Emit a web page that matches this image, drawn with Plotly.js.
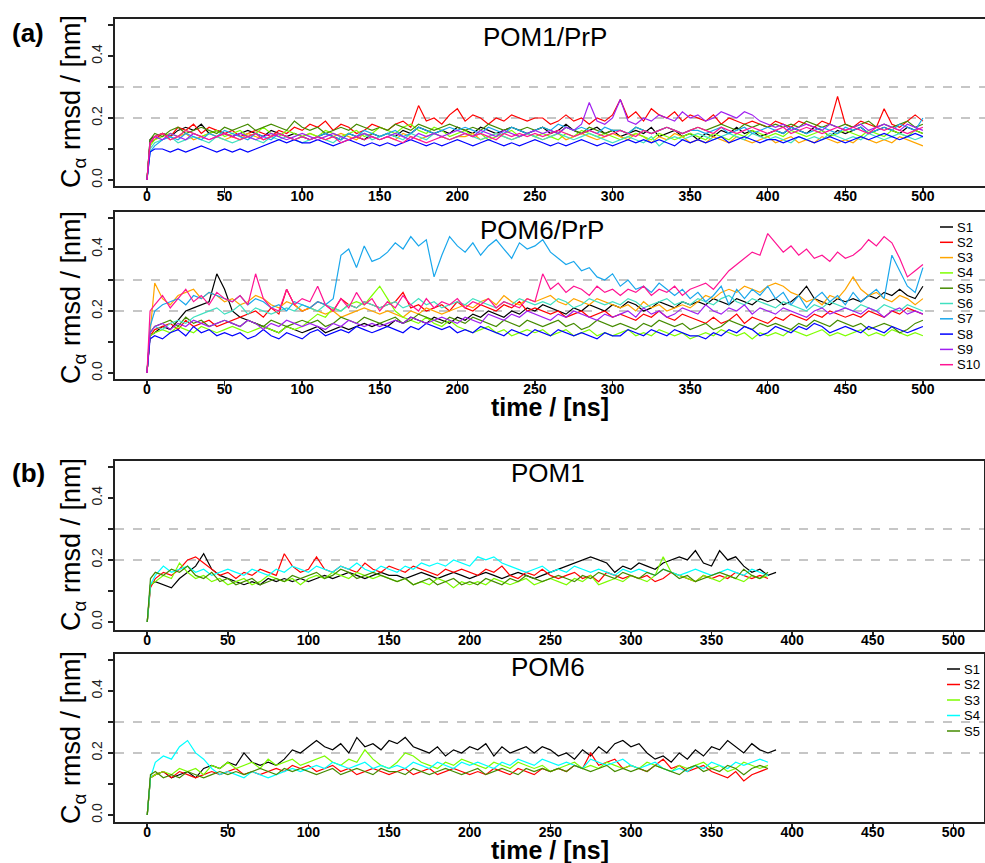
<!DOCTYPE html>
<html>
<head>
<meta charset="utf-8">
<script src="https://cdn.plot.ly/plotly-3.0.1.min.js"></script>
<style>html,body{margin:0;padding:0;background:#fff;}#chart{width:985px;height:863px;}</style>
</head>
<body>
<div id="chart"></div>
<script>
// ---------- time grids (ns) ----------
const tA = [0,2,5,10,15,20,25,30,35,40,45,50,55,60,65,70,75,80,85,90,95,100,105,110,115,120,125,130,135,140,145,150,155,160,165,170,175,180,185,190,195,200,205,210,215,220,225,230,235,240,245,250,255,260,265,270,275,280,285,290,295,300,305,310,315,320,325,330,335,340,345,350,355,360,365,370,375,380,385,390,395,400,405,410,415,420,425,430,435,440,445,450,455,460,465,470,475,480,485,490,495,500];
const tB = [0,2,5,10,15,20,25,30,35,40,45,50,55,60,65,70,75,80,85,90,95,100,105,110,115,120,125,130,135,140,145,150,155,160,165,170,175,180,185,190,195,200,205,210,215,220,225,230,235,240,245,250,255,260,265,270,275,280,285,290,295,300,305,310,315,320,325,330,335,340,345,350,355,360,365,370,375,380,385,390];

// ---------- (a) POM1/PrP, C-alpha rmsd (nm) ----------
const a1_S1 = [0,.13,
.14,.15,.14,.16,.17,.16,.18,.15,.16,.15,
.14,.15,.16,.15,.14,.16,.15,.14,.15,.14,
.13,.14,.15,.14,.13,.15,.14,.13,.15,.14,
.15,.14,.16,.15,.17,.16,.15,.16,.15,.17,
.16,.15,.17,.16,.15,.16,.17,.16,.15,.16,
.17,.15,.16,.18,.16,.15,.16,.17,.15,.16,
.14,.15,.16,.15,.17,.14,.15,.16,.14,.15,
.13,.15,.14,.16,.15,.17,.15,.16,.14,.15,
.16,.15,.17,.16,.15,.17,.16,.14,.16,.15,
.16,.17,.15,.16,.17,.16,.15,.17,.16,.15];
const a1_S2 = [0,.12,
.13,.15,.14,.17,.16,.18,.15,.17,.16,.15,
.16,.14,.15,.16,.15,.14,.16,.15,.17,.16,
.18,.17,.19,.16,.18,.17,.15,.16,.18,.17,
.16,.18,.19,.17,.24,.19,.2,.18,.21,.23,
.19,.21,.2,.18,.2,.19,.21,.2,.19,.2,
.2,.18,.19,.21,.19,.2,.18,.2,.19,.21,
.26,.2,.22,.19,.23,.21,.2,.22,.19,.21,
.2,.19,.21,.18,.2,.19,.18,.19,.18,.17,
.19,.18,.17,.19,.18,.17,.19,.18,.27,.18,
.17,.19,.18,.17,.23,.18,.17,.19,.21,.19];
const a1_S3 = [0,.12,
.14,.15,.13,.14,.15,.13,.14,.15,.14,.13,
.14,.13,.15,.14,.13,.14,.15,.14,.13,.14,
.15,.14,.13,.14,.15,.14,.13,.15,.14,.13,
.14,.13,.15,.14,.13,.14,.15,.14,.13,.14,
.14,.15,.13,.14,.15,.14,.13,.14,.15,.14,
.13,.14,.15,.13,.14,.15,.14,.13,.14,.15,
.14,.13,.15,.14,.12,.14,.13,.15,.14,.12,
.13,.12,.14,.13,.12,.14,.13,.12,.13,.14,
.12,.13,.14,.12,.13,.12,.14,.13,.12,.13,
.12,.14,.13,.12,.13,.12,.14,.13,.12,.11];
const a1_S4 = [0,.11,
.13,.14,.15,.14,.16,.15,.14,.15,.16,.14,
.15,.16,.14,.15,.17,.15,.14,.16,.15,.14,
.15,.14,.16,.15,.14,.15,.16,.14,.15,.17,
.16,.15,.17,.18,.16,.15,.17,.16,.14,.15,
.16,.14,.15,.13,.14,.15,.16,.14,.15,.14,
.15,.14,.13,.15,.14,.16,.15,.14,.15,.14,
.13,.14,.15,.14,.13,.15,.14,.13,.14,.15,
.14,.13,.15,.14,.13,.15,.14,.16,.15,.14,
.15,.14,.16,.15,.14,.15,.16,.14,.15,.16,
.15,.14,.16,.15,.14,.16,.15,.14,.16,.15];
const a1_S5 = [0,.13,
.15,.14,.16,.17,.15,.16,.17,.16,.15,.17,
.16,.17,.18,.16,.17,.18,.17,.16,.19,.17,
.16,.17,.15,.16,.17,.16,.18,.17,.16,.17,
.16,.18,.17,.16,.18,.17,.16,.17,.18,.17,
.16,.17,.16,.18,.17,.16,.17,.16,.17,.16,
.17,.16,.15,.17,.16,.15,.17,.16,.15,.16,
.16,.15,.17,.16,.15,.16,.17,.16,.15,.16,
.17,.16,.17,.18,.17,.16,.18,.17,.18,.17,
.18,.17,.18,.17,.19,.18,.17,.18,.17,.18,
.17,.18,.19,.17,.18,.17,.18,.19,.17,.18];
const a1_S6 = [0,.1,
.12,.13,.14,.12,.13,.14,.13,.12,.14,.13,
.12,.13,.14,.13,.12,.14,.13,.14,.13,.12,
.13,.14,.13,.12,.14,.13,.14,.15,.13,.14,
.15,.14,.13,.15,.14,.13,.15,.14,.13,.14,
.15,.14,.13,.14,.15,.14,.13,.14,.15,.14,
.13,.14,.15,.14,.13,.14,.15,.14,.13,.12,
.13,.14,.13,.12,.14,.11,.13,.14,.13,.14,
.15,.14,.13,.14,.15,.14,.13,.15,.14,.13,
.14,.13,.12,.14,.13,.14,.13,.15,.14,.13,
.14,.13,.15,.14,.13,.14,.15,.14,.13,.14];
const a1_S7 = [0,.09,
.11,.13,.14,.13,.15,.14,.13,.15,.14,.16,
.15,.14,.13,.15,.14,.13,.15,.14,.13,.14,
.13,.14,.15,.14,.13,.15,.14,.16,.15,.14,
.15,.16,.14,.15,.17,.16,.15,.16,.17,.16,
.17,.16,.15,.17,.16,.15,.17,.16,.15,.16,
.17,.16,.18,.17,.16,.17,.16,.15,.17,.16,
.16,.15,.17,.16,.15,.16,.17,.16,.15,.16,
.16,.15,.16,.17,.15,.16,.17,.15,.16,.17,
.16,.15,.17,.16,.15,.16,.17,.16,.15,.17,
.16,.17,.15,.16,.17,.16,.18,.17,.16,.2];
const a1_S8 = [0,.09,
.1,.1,.09,.1,.09,.1,.11,.1,.09,.1,
.09,.1,.09,.1,.11,.12,.13,.12,.13,.12,
.12,.13,.12,.11,.12,.13,.12,.11,.12,.11,
.12,.11,.12,.13,.12,.11,.12,.11,.12,.13,
.12,.11,.12,.13,.12,.11,.12,.11,.12,.13,
.12,.11,.12,.11,.12,.13,.12,.11,.12,.11,
.12,.13,.12,.13,.12,.13,.12,.11,.13,.12,
.13,.12,.13,.14,.12,.13,.14,.13,.12,.13,
.13,.12,.13,.14,.13,.12,.13,.14,.13,.12,
.13,.14,.13,.14,.15,.14,.13,.14,.15,.14];
const a1_S9 = [0,.12,
.14,.13,.15,.14,.13,.15,.14,.13,.14,.15,
.14,.15,.14,.13,.14,.15,.14,.13,.14,.15,
.14,.13,.14,.15,.14,.13,.14,.15,.14,.13,
.14,.15,.14,.13,.15,.14,.15,.14,.15,.16,
.15,.14,.16,.15,.14,.16,.15,.14,.15,.16,
.15,.16,.15,.17,.16,.18,.25,.19,.18,.2,
.26,.19,.18,.2,.19,.21,.2,.19,.22,.2,
.21,.19,.2,.22,.21,.2,.22,.21,.19,.18,
.17,.18,.16,.17,.18,.17,.16,.18,.17,.16,
.17,.18,.16,.17,.18,.17,.16,.18,.17,.16];
const a1_S10 = [0,.12,
.14,.15,.13,.14,.16,.15,.14,.13,.14,.15,
.14,.13,.14,.15,.13,.14,.15,.14,.13,.14,
.13,.14,.13,.14,.12,.13,.14,.13,.14,.13,
.14,.13,.12,.14,.13,.12,.13,.14,.13,.14,
.15,.14,.15,.14,.13,.15,.14,.15,.14,.15,
.14,.15,.16,.15,.14,.15,.16,.15,.14,.15,
.16,.15,.14,.16,.15,.16,.17,.16,.15,.16,
.17,.16,.15,.17,.16,.15,.16,.17,.16,.15,
.16,.17,.15,.16,.17,.16,.15,.16,.17,.16,
.17,.16,.15,.17,.16,.17,.16,.15,.16,.17];

// ---------- (a) POM6/PrP ----------
const a2_S1 = [0,.12,
.13,.15,.14,.17,.2,.21,.22,.23,.32,.27,
.2,.18,.17,.16,.15,.14,.13,.15,.14,.13,
.14,.15,.13,.14,.15,.14,.15,.16,.15,.16,
.15,.17,.16,.18,.17,.16,.18,.17,.16,.18,
.17,.19,.18,.2,.19,.18,.2,.19,.21,.2,
.22,.21,.2,.19,.21,.2,.22,.21,.2,.22,
.21,.23,.22,.2,.21,.23,.22,.21,.23,.22,
.23,.22,.24,.23,.22,.24,.23,.22,.24,.23,
.24,.22,.23,.25,.28,.24,.23,.22,.24,.23,
.24,.23,.25,.24,.26,.25,.27,.25,.24,.28];
const a2_S2 = [0,.12,
.14,.15,.16,.14,.17,.15,.16,.17,.15,.16,
.17,.18,.19,.2,.18,.21,.19,.27,.22,.2,
.21,.23,.22,.2,.24,.22,.21,.23,.22,.21,
.22,.23,.26,.21,.22,.2,.21,.22,.2,.23,
.21,.2,.22,.21,.2,.22,.21,.23,.2,.21,
.2,.19,.2,.18,.19,.2,.18,.19,.2,.18,
.19,.18,.17,.19,.18,.2,.18,.17,.19,.18,
.17,.16,.18,.16,.17,.19,.16,.18,.17,.16,
.18,.17,.19,.18,.17,.19,.18,.2,.19,.18,
.19,.18,.2,.19,.18,.2,.19,.21,.2,.19];
const a2_S3 = [0,.13,
.29,.24,.22,.25,.26,.27,.24,.26,.25,.23,
.24,.22,.23,.25,.24,.22,.21,.23,.22,.2,
.21,.2,.19,.2,.18,.19,.2,.21,.2,.19,
.2,.19,.18,.2,.19,.21,.2,.19,.2,.21,
.22,.21,.23,.24,.22,.25,.23,.22,.24,.23,
.24,.25,.23,.22,.24,.23,.22,.24,.23,.22,
.21,.22,.2,.23,.21,.22,.2,.21,.22,.21,
.23,.25,.24,.26,.27,.26,.28,.27,.26,.28,
.29,.28,.26,.25,.23,.24,.22,.25,.24,.27,
.31,.27,.25,.26,.24,.23,.25,.24,.22,.24];
const a2_S4 = [0,.12,
.13,.14,.13,.15,.14,.13,.15,.14,.13,.14,
.15,.14,.13,.14,.15,.14,.13,.15,.14,.15,
.17,.19,.18,.21,.2,.22,.23,.22,.25,.28,
.24,.2,.18,.17,.16,.18,.16,.15,.17,.15,
.14,.13,.14,.15,.13,.14,.12,.13,.14,.13,
.14,.12,.13,.14,.12,.13,.14,.12,.13,.12,
.13,.14,.12,.13,.12,.14,.13,.12,.13,.11,
.12,.13,.12,.14,.13,.12,.13,.11,.13,.12,
.13,.12,.14,.13,.12,.13,.14,.12,.13,.12,
.13,.14,.12,.13,.12,.14,.13,.12,.13,.12];
const a2_S5 = [0,.13,
.15,.16,.17,.15,.18,.16,.17,.15,.16,.17,
.16,.15,.17,.16,.15,.17,.16,.15,.16,.17,
.16,.17,.15,.16,.18,.17,.16,.18,.17,.16,
.17,.18,.16,.17,.19,.18,.17,.16,.18,.17,
.16,.18,.17,.16,.15,.17,.16,.15,.17,.16,
.15,.16,.17,.15,.16,.14,.15,.17,.16,.15,
.16,.15,.14,.16,.15,.17,.16,.15,.16,.14,
.15,.16,.14,.15,.17,.16,.15,.14,.16,.15,
.16,.15,.14,.16,.15,.17,.16,.15,.17,.16,
.15,.16,.14,.15,.16,.15,.13,.14,.16,.17];
const a2_S6 = [0,.13,
.15,.14,.16,.17,.16,.18,.19,.2,.21,.19,
.2,.22,.19,.21,.2,.19,.2,.21,.2,.22,
.21,.2,.22,.21,.2,.22,.21,.23,.22,.21,
.22,.23,.21,.22,.24,.22,.23,.21,.22,.23,
.22,.24,.23,.22,.21,.23,.22,.24,.23,.22,
.23,.22,.24,.23,.21,.22,.24,.23,.22,.23,
.22,.24,.23,.21,.22,.23,.24,.22,.23,.22,
.24,.23,.22,.24,.25,.23,.22,.24,.23,.22,
.21,.23,.22,.21,.2,.22,.21,.23,.22,.21,
.2,.22,.21,.2,.22,.21,.2,.22,.21,.2];
const a2_S7 = [0,.15,
.2,.22,.23,.24,.22,.25,.24,.26,.25,.24,
.23,.25,.22,.24,.23,.21,.22,.2,.23,.22,
.21,.23,.22,.24,.38,.4,.34,.41,.36,.37,
.39,.42,.4,.44,.41,.43,.31,.38,.44,.41,
.39,.42,.38,.41,.43,.4,.37,.42,.4,.41,
.43,.39,.37,.35,.36,.33,.34,.31,.3,.32,
.28,.3,.27,.28,.26,.29,.27,.25,.27,.24,
.26,.23,.25,.28,.22,.27,.24,.27,.25,.28,
.24,.26,.22,.25,.21,.24,.26,.23,.25,.22,
.26,.23,.25,.27,.24,.38,.33,.28,.26,.34];
const a2_S8 = [0,.11,
.12,.11,.13,.14,.12,.15,.13,.14,.12,.13,
.12,.13,.11,.12,.14,.12,.11,.13,.12,.11,
.13,.14,.12,.13,.14,.13,.15,.14,.13,.14,
.15,.14,.13,.15,.14,.16,.15,.14,.15,.13,
.14,.13,.15,.14,.13,.12,.14,.13,.12,.14,
.13,.12,.14,.13,.12,.13,.12,.11,.13,.12,
.12,.14,.13,.12,.14,.13,.12,.14,.13,.12,
.12,.11,.13,.12,.14,.13,.15,.14,.12,.13,
.15,.14,.13,.15,.14,.16,.15,.13,.14,.15,
.14,.13,.15,.14,.13,.15,.14,.13,.14,.15];
const a2_S9 = [0,.13,
.15,.16,.14,.16,.15,.17,.16,.15,.16,.17,
.16,.15,.17,.16,.14,.16,.15,.17,.16,.15,
.16,.15,.14,.16,.15,.17,.16,.15,.16,.15,
.16,.17,.16,.18,.17,.16,.17,.18,.17,.16,
.18,.17,.16,.19,.18,.17,.19,.18,.2,.19,
.18,.17,.19,.18,.2,.19,.18,.17,.19,.18,
.19,.2,.18,.21,.19,.2,.18,.19,.21,.2,
.19,.22,.2,.19,.21,.2,.22,.19,.21,.2,
.19,.21,.2,.19,.18,.2,.21,.19,.2,.21,
.2,.19,.21,.2,.18,.2,.21,.19,.2,.19];
const a2_S10 = [0,.2,
.22,.25,.21,.24,.27,.23,.25,.22,.26,.24,
.23,.25,.22,.32,.24,.21,.2,.27,.22,.24,
.23,.28,.22,.2,.24,.21,.26,.22,.24,.2,
.23,.21,.25,.22,.2,.24,.21,.23,.22,.24,
.21,.23,.22,.24,.21,.23,.22,.21,.24,.23,
.32,.27,.29,.26,.28,.27,.25,.28,.26,.27,
.25,.27,.26,.28,.25,.27,.26,.28,.25,.27,
.28,.29,.27,.3,.33,.35,.37,.39,.38,.45,
.42,.39,.41,.38,.4,.37,.38,.36,.39,.37,
.38,.4,.43,.41,.44,.42,.37,.31,.33,.35];

// ---------- (b) POM1 ----------
const b1_S1 = [0,.12,
.13,.12,.11,.14,.16,.18,.22,.17,.15,.14,
.13,.12,.13,.12,.14,.13,.14,.13,.14,.13,
.14,.15,.14,.15,.16,.15,.14,.15,.16,.15,
.15,.14,.15,.16,.15,.14,.15,.16,.15,.14,
.15,.16,.15,.14,.15,.16,.15,.14,.15,.16,
.17,.18,.19,.2,.21,.2,.19,.16,.18,.17,
.19,.18,.17,.19,.2,.21,.2,.23,.19,.18,
.23,.2,.21,.18,.16,.17,.15,.16];
const b1_S2 = [0,.11,
.14,.16,.15,.17,.2,.21,.19,.17,.15,.16,
.14,.16,.15,.17,.16,.15,.22,.18,.16,.17,
.21,.17,.16,.18,.17,.16,.19,.17,.16,.18,
.17,.16,.18,.17,.16,.15,.17,.16,.17,.16,
.15,.17,.16,.18,.15,.14,.16,.15,.17,.15,
.14,.15,.16,.14,.15,.13,.16,.15,.14,.15,
.14,.15,.13,.14,.16,.15,.14,.13,.15,.14,
.15,.14,.16,.15,.14,.15,.14,null];
const b1_S3 = [0,.12,
.13,.15,.14,.19,.16,.14,.15,.13,.14,.12,
.13,.14,.12,.13,.15,.14,.13,.14,.12,.14,
.15,.14,.16,.15,.14,.16,.15,.14,.15,.14,
.13,.14,.12,.13,.12,.14,.13,.11,.13,.12,
.13,.12,.14,.13,.12,.13,.14,.12,.13,.14,
.13,.12,.14,.13,.15,.12,.13,.14,.13,.15,
.14,.13,.15,.21,.16,.15,.14,.13,.15,.14,
.13,.15,.14,.13,.15,.14,.15,null];
const b1_S4 = [0,.12,
.15,.18,.16,.17,.18,.16,.17,.15,.16,.17,
.16,.15,.17,.16,.15,.17,.16,.18,.17,.16,
.18,.17,.16,.18,.17,.19,.17,.16,.18,.17,
.16,.18,.17,.19,.18,.19,.18,.2,.19,.18,
.21,.2,.21,.19,.18,.17,.16,.17,.18,.16,
.17,.16,.18,.17,.16,.17,.16,.15,.17,.16,
.17,.16,.15,.17,.16,.15,.16,.17,.16,.15,
.16,.17,.16,.15,.17,.16,.15,null];
const b1_S5 = [0,.14,
.16,.15,.17,.16,.18,.15,.14,.16,.13,.14,
.12,.13,.14,.12,.13,.14,.13,.15,.14,.15,
.16,.14,.15,.17,.16,.14,.15,.16,.15,.14,
.13,.14,.12,.13,.14,.12,.13,.14,.12,.13,
.12,.14,.13,.12,.14,.13,.15,.14,.13,.14,
.15,.14,.13,.15,.14,.16,.15,.14,.16,.15,
.14,.16,.15,.17,.16,.14,.15,.13,.14,.15,
.16,.15,.14,.17,.15,.14,.16,null];

// ---------- (b) POM6 ----------
const b2_S1 = [0,.12,
.13,.14,.12,.13,.14,.12,.15,.16,.15,.17,
.16,.2,.17,.16,.17,.16,.18,.21,.2,.22,
.24,.22,.21,.23,.2,.25,.22,.23,.21,.24,
.23,.25,.22,.21,.2,.22,.19,.21,.2,.22,
.21,.23,.19,.22,.2,.21,.22,.2,.22,.21,
.19,.2,.18,.21,.19,.22,.2,.23,.24,.22,
.23,.2,.18,.19,.17,.2,.18,.21,.19,.22,
.21,.24,.22,.2,.23,.21,.2,.21];
const b2_S2 = [0,.12,
.13,.14,.12,.14,.13,.12,.13,.14,.13,.14,
.15,.13,.14,.13,.14,.15,.14,.16,.15,.16,
.14,.15,.16,.14,.15,.13,.14,.15,.14,.13,
.14,.15,.13,.14,.15,.13,.14,.15,.14,.13,
.14,.13,.15,.14,.13,.15,.14,.13,.15,.14,
.15,.14,.16,.15,.2,.16,.17,.18,.15,.16,
.15,.14,.16,.18,.15,.16,.14,.15,.16,.14,
.13,.12,.14,.11,.13,.14,.15,null];
const b2_S3 = [0,.12,
.13,.14,.13,.15,.14,.15,.13,.16,.15,.17,
.15,.16,.17,.15,.18,.16,.17,.18,.16,.17,
.18,.19,.17,.16,.18,.17,.21,.18,.16,.15,
.17,.2,.19,.17,.16,.15,.17,.16,.18,.17,
.16,.15,.17,.16,.15,.17,.16,.15,.16,.14,
.15,.16,.17,.15,.16,.15,.17,.16,.15,.16,
.15,.17,.16,.15,.14,.16,.15,.16,.17,.15,
.16,.14,.15,.17,.16,.15,.16,null];
const b2_S4 = [0,.12,
.17,.19,.18,.22,.24,.2,.18,.15,.13,.14,
.13,.12,.14,.13,.12,.13,.14,.15,.14,.15,
.16,.15,.17,.16,.15,.16,.17,.15,.16,.15,
.16,.15,.17,.16,.15,.17,.16,.15,.17,.16,
.17,.16,.15,.17,.16,.18,.17,.16,.18,.17,
.16,.17,.16,.15,.18,.17,.16,.17,.18,.16,
.15,.16,.17,.15,.14,.15,.14,.16,.15,.17,
.16,.15,.17,.16,.17,.18,.17,null];
const b2_S5 = [0,.13,
.14,.12,.13,.12,.14,.13,.12,.13,.14,.13,
.14,.13,.14,.15,.14,.13,.15,.14,.15,.14,
.13,.14,.15,.13,.14,.15,.14,.13,.15,.14,
.14,.13,.15,.14,.13,.14,.15,.14,.13,.14,
.15,.13,.14,.15,.14,.13,.15,.14,.15,.14,
.15,.14,.16,.15,.14,.15,.16,.14,.15,.14,
.15,.14,.16,.15,.14,.13,.15,.16,.14,.15,
.14,.16,.15,.13,.15,.16,.15,null];

// ---------- names / colours / ticks ----------
const namesA = ['S1','S2','S3','S4','S5','S6','S7','S8','S9','S10'];
const colorsA = ['#000000','#ff0000','#ffa500','#7fff00','#458b00','#40e0c0','#1aa7ec','#0000ff','#a020f0','#ff1493'];
const namesB = ['S1','S2','S3','S4','S5'];
const colorsB = ['#000000','#ff0000','#7cfc00','#00ffff','#458b00'];
const xTickVals = [0,50,100,150,200,250,300,350,400,450,500];
const refLines = [0.2,0.3];

const seriesA1 = [a1_S1,a1_S2,a1_S3,a1_S4,a1_S5,a1_S6,a1_S7,a1_S8,a1_S9,a1_S10];
const seriesA2 = [a2_S1,a2_S2,a2_S3,a2_S4,a2_S5,a2_S6,a2_S7,a2_S8,a2_S9,a2_S10];
const seriesB1 = [b1_S1,b1_S2,b1_S3,b1_S4,b1_S5];
const seriesB2 = [b2_S1,b2_S2,b2_S3,b2_S4,b2_S5];

const traces = [];
function addSet(series, t, names, colors, xa, ya){
  series.forEach((y,i)=>{
    traces.push({x:t, y:y, type:'scatter', mode:'lines', name:names[i],
      line:{color:colors[i], width:1.2}, xaxis:xa, yaxis:ya,
      showlegend:false, connectgaps:false});
  });
}
addSet(seriesA1, tA, namesA, colorsA, 'x', 'y');
addSet(seriesA2, tA, namesA, colorsA, 'x2', 'y2');
addSet(seriesB1, tB, namesB, colorsB, 'x3', 'y3');
addSet(seriesB2, tB, namesB, colorsB, 'x4', 'y4');

// ---------- layout ----------
const W = 985, H = 863;
const px = v => v / W;
const py = v => 1 - v / H;
const FONT = 'Liberation Sans, Arial, sans-serif';

function xAxis(anchor, dom, rng){
  return {domain:dom, range:rng, anchor:anchor, tickmode:'array', tickvals:xTickVals, ticks:'outside', ticklen:5,
    tickwidth:1.5, tickcolor:'#222', showline:true, linecolor:'#222', linewidth:2, mirror:true,
    ticklabelstandoff:-9,
    showgrid:false, zeroline:false, tickfont:{family:FONT, size:14, weight:'bold', color:'#000'}};
}
function yAxis(anchor, dom, rng){
  return {domain:dom, range:rng, anchor:anchor, tick0:0, dtick:0.2, tickformat:'.1f', ticks:'outside',
    ticklen:5, tickwidth:1.5, tickcolor:'#222', tickangle:-90, showline:true, linecolor:'#222', linewidth:2,
    minor:{dtick:0.1, tick0:0, ticks:'outside', ticklen:5, tickwidth:1.5, tickcolor:'#222', showgrid:false},
    mirror:true, showgrid:false, zeroline:false, tickfont:{family:FONT, size:14, color:'#222'}};
}

const shapes = [];
['y','y2','y3','y4'].forEach((ya,k)=>{
  const xa = ['x','x2','x3','x4'][k];
  refLines.forEach(v=>{
    shapes.push({type:'line', xref:xa+' domain', yref:ya, x0:0, x1:1, y0:v, y1:v,
      line:{color:'#b4b4b4', width:1.5, dash:'dash'}, layer:'below'});
  });
});

const ytitle = 'C<sub>α</sub> rmsd / [nm]';
const annotations = [
  {text:'(a)', x:px(28), y:py(33), font:{size:26, weight:'bold'}},
  {text:'(b)', x:px(28), y:py(473), font:{size:26, weight:'bold'}},
  {text:'POM1/PrP', x:px(545), y:py(37), font:{size:26}},
  {text:'POM6/PrP', x:px(542), y:py(230), font:{size:26}},
  {text:'POM1', x:px(548), y:py(473), font:{size:26}},
  {text:'POM6', x:px(548), y:py(667), font:{size:26}},
  {text:'time / [ns]', x:px(550), y:py(407), font:{size:25, weight:'bold'}},
  {text:'time / [ns]', x:px(550), y:py(850), font:{size:25, weight:'bold'}},
  {text:ytitle, x:px(73), y:py(102), textangle:-90, font:{size:27}},
  {text:ytitle, x:px(73), y:py(298), textangle:-90, font:{size:27}},
  {text:ytitle, x:px(73), y:py(545), textangle:-90, font:{size:27}},
  {text:ytitle, x:px(73), y:py(738), textangle:-90, font:{size:27}}
].map(a=>Object.assign({xref:'paper', yref:'paper', showarrow:false, xanchor:'center', yanchor:'middle'},
  a, {font:Object.assign({family:FONT, color:'#000'}, a.font)}));

// legend keys (short line samples + labels, built from the name/colour lists)
function addKey(names, colors, lineX0, lineX1, textX, y0, dy){
  names.forEach((n,i)=>{
    const yy = y0 + i*dy;
    shapes.push({type:'line', xref:'paper', yref:'paper', x0:px(lineX0), x1:px(lineX1), y0:py(yy), y1:py(yy),
      line:{color:colors[i], width:1.5}});
    annotations.push({text:n, xref:'paper', yref:'paper', x:px(textX), y:py(yy), xanchor:'left', yanchor:'middle',
      showarrow:false, font:{family:FONT, size:13, color:'#000'}});
  });
}
addKey(namesA, colorsA, 940, 953, 955, 227, 15.3);
addKey(namesB, colorsB, 947, 960, 962, 669, 15.5);

const layout = {
  width:W, height:H, margin:{l:0, r:0, t:0, b:0},
  paper_bgcolor:'#fff', plot_bgcolor:'#fff',
  font:{family:FONT, color:'#000'},
  xaxis: xAxis('y',  [px(115), 1], [-20.6, 540]),
  yaxis: yAxis('x',  [py(186), py(19)], [-0.0194, 0.5194]),
  xaxis2: xAxis('y2', [px(115), 1], [-20.6, 540]),
  yaxis2: yAxis('x2', [py(379), py(212)], [-0.0194, 0.5194]),
  xaxis3: xAxis('y3', [px(115), px(984)], [-20, 519]),
  yaxis3: yAxis('x3', [py(630), py(461)], [-0.026, 0.519]),
  xaxis4: xAxis('y4', [px(115), px(984)], [-20, 519]),
  yaxis4: yAxis('x4', [py(822), py(654)], [-0.0226, 0.519]),
  shapes: shapes,
  annotations: annotations,
  showlegend: false
};

Plotly.newPlot('chart', traces, layout, {staticPlot:true, displayModeBar:false});
</script>
</body>
</html>
